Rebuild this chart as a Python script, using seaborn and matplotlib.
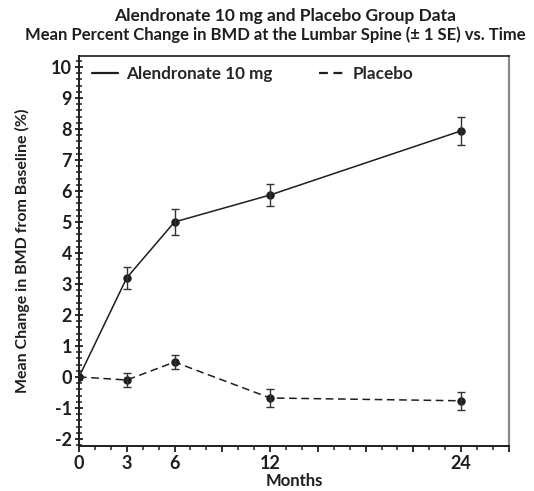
import matplotlib
matplotlib.use("Agg")
import matplotlib.pyplot as plt
from matplotlib.ticker import MultipleLocator, FixedLocator
from matplotlib.lines import Line2D
import pandas as pd
import seaborn as sns

months = [0, 3, 6, 12, 24]
alendronate_mean = [0.0, 3.2, 5.0, 5.87, 7.94]
alendronate_se = [0.0, 0.36, 0.42, 0.37, 0.45]
placebo_mean = [0.0, -0.1, 0.48, -0.68, -0.77]
placebo_se = [0.0, 0.23, 0.24, 0.29, 0.29]
groups = ["Alendronate 10 mg", "Placebo"]
x_tick_labels = ["0", "3", "6", "12", "24"]
y_ticks = list(range(-2, 11))

sns.set_theme(style="ticks")
plt.rcParams["font.family"] = ["Lato", "DejaVu Sans"]

df = pd.DataFrame({
    "Months": months * 2,
    "Change": alendronate_mean + placebo_mean,
    "SE": alendronate_se + placebo_se,
    "Group": [groups[0]] * len(months) + [groups[1]] * len(months),
})

fig = plt.figure(figsize=(5.34, 4.91), dpi=100)
ax = fig.add_axes([0.148, 0.0916, 0.805, 0.794])

ink = "#1e1e1e"
sns.lineplot(data=df, x="Months", y="Change", style="Group", hue="Group",
             palette=[ink, ink], dashes={groups[0]: "", groups[1]: (5, 3)},
             markers={groups[0]: "o", groups[1]: "o"}, markersize=5.3,
             markeredgecolor=ink, linewidth=1.1, ax=ax, legend=False)

for g in groups:
    sub = df[df["Group"] == g]
    sub = sub[sub["SE"] > 0]
    ax.errorbar(sub["Months"], sub["Change"], yerr=sub["SE"], fmt="none",
                ecolor="#333333", elinewidth=1.0, capsize=3, capthick=1.0)

ax.set_xlim(0, 27)
ax.set_ylim(-2.23, 10.35)
ax.xaxis.set_major_locator(FixedLocator(months + [9, 15, 18, 21, 27]))
ax.set_xticklabels(x_tick_labels + [""] * 5)
ax.xaxis.set_minor_locator(MultipleLocator(1))
ax.yaxis.set_major_locator(FixedLocator(y_ticks))
ax.set_yticklabels([str(v) for v in y_ticks])
ax.yaxis.set_minor_locator(MultipleLocator(0.2))

ax.tick_params(axis="x", which="major", direction="out", length=4.5, width=1.3,
               color=ink, labelsize=13, pad=2)
ax.tick_params(axis="x", which="minor", direction="out", length=3, width=1.1,
               color=ink)
ax.tick_params(axis="y", which="major", direction="inout", length=6, width=1.3,
               color=ink, labelsize=13, pad=2)
ax.tick_params(axis="y", which="minor", direction="inout", length=4, width=1.1,
               color=ink)
for lab in ax.get_xticklabels() + ax.get_yticklabels():
    lab.set_fontweight("bold")
    lab.set_color(ink)

for side in ["left", "bottom"]:
    ax.spines[side].set_color(ink)
    ax.spines[side].set_linewidth(1.4)
ax.spines["top"].set_color(ink)
ax.spines["top"].set_linewidth(1.2)
ax.spines["right"].set_color("#8a8a8a")
ax.spines["right"].set_linewidth(1.6)

ax.set_xlabel("Months", fontsize=12, fontweight="bold", color=ink, labelpad=1)
ax.set_ylabel("Mean Change in BMD from Baseline (%)", fontsize=11.5,
              fontweight="bold", color=ink, labelpad=15)

fig.text(0.533, 0.967, "Alendronate 10 mg and Placebo Group Data",
         ha="center", va="center", fontsize=12.5, fontweight="bold", color=ink)
fig.text(0.515, 0.930, "Mean Percent Change in BMD at the Lumbar Spine (\u00b1 1 SE) vs. Time",
         ha="center", va="center", fontsize=12.0, fontweight="bold", color=ink)

handles = [Line2D([], [], color=ink, lw=1.6),
           Line2D([], [], color=ink, lw=1.6, dashes=(4, 2.5))]
ax.legend(handles, groups, loc="upper left", ncol=2, frameon=False,
          handlelength=1.5, handletextpad=0.5, columnspacing=2.7,
          bbox_to_anchor=(-0.005, 1.015),
          prop={"weight": "bold", "size": 12.3})

fig.savefig("out.png", dpi=100)
